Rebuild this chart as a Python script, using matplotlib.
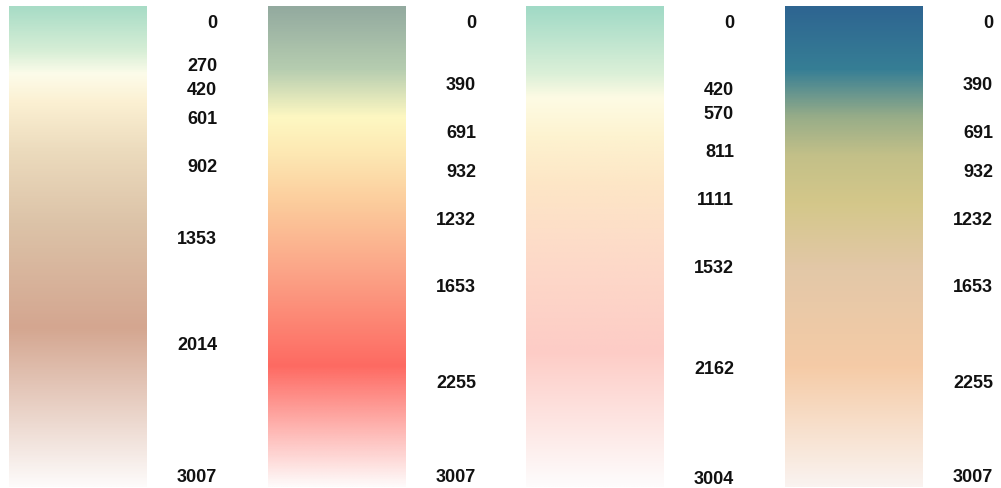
import numpy as np
import matplotlib
matplotlib.use("Agg")
import matplotlib.pyplot as plt
from matplotlib.colors import LinearSegmentedColormap
from matplotlib.transforms import blended_transform_factory, ScaledTranslation

# stop values (also shown as labels) and colours for each of the four ramps
stops_1 = [0, 270, 420, 601, 902, 1353, 2014, 3007]
colors_1 = ["#a8dcc6", "#d6eed6", "#fdfcea", "#fbf0d2", "#ecdbbd", "#dcc3a8", "#d4a690", "#fdfbfa"]

stops_2 = [0, 390, 691, 932, 1232, 1653, 2255, 3007]
colors_2 = ["#93aa9f", "#b6cdb0", "#fef8c2", "#fde7b2", "#fccc9c", "#fba588", "#fe6a62", "#fefafa"]

stops_3 = [0, 420, 570, 811, 1111, 1532, 2162, 3004]
colors_3 = ["#a1dac6", "#dcf0d8", "#fefbe4", "#fdf3d0", "#fde6c6", "#fddbc9", "#fdccc6", "#fefcfc"]

stops_4 = [0, 390, 691, 932, 1232, 1653, 2255, 3007]
colors_4 = ["#2e6591", "#367e95", "#98ad88", "#c3c088", "#d4c78a", "#e3c8a8", "#f5cba6", "#faf3f0"]

ramps = [(stops_1, colors_1), (stops_2, colors_2), (stops_3, colors_3), (stops_4, colors_4)]

W, H = 1001, 489
bar_left = [9, 268, 526, 785]
bar_w = 138
bar_top, bar_bot = 7, 488
label_floor = [476, 476, 478, 476]

fig = plt.figure(figsize=(W / 100, H / 100), dpi=100)

for i, (stops, colors) in enumerate(ramps):
    vmax = stops[-1]
    ax = fig.add_axes([bar_left[i] / W, (H - bar_bot) / H, bar_w / W, (bar_bot - bar_top) / H])
    cmap = LinearSegmentedColormap.from_list(f"ramp{i}", [(s / vmax, c) for s, c in zip(stops, colors)])
    grad = np.linspace(0, vmax, 600).reshape(-1, 1)
    ax.imshow(grad, cmap=cmap, vmin=0, vmax=vmax, aspect="auto",
              extent=[0, 1, vmax, 0], interpolation="bilinear")
    ax.set_xlim(0, 1)
    ax.set_ylim(vmax, 0)
    ax.axis("off")

    # labels sit a little below their stop, the last one is held inside the figure
    px_per_unit = (bar_bot - bar_top) / vmax
    trans = blended_transform_factory(ax.transAxes, ax.transData) + \
        ScaledTranslation(70 / 100, -16 / 100, fig.dpi_scale_trans)
    v_clamp = (label_floor[i] - bar_top - 14) / px_per_unit
    for s in stops:
        ax.text(1.0, min(s, v_clamp), str(s), transform=trans, ha="right", va="center",
                fontsize=13, fontweight="bold", family="Liberation Sans",
                color="#111111", clip_on=False)

fig.savefig("out.png", dpi=100)
